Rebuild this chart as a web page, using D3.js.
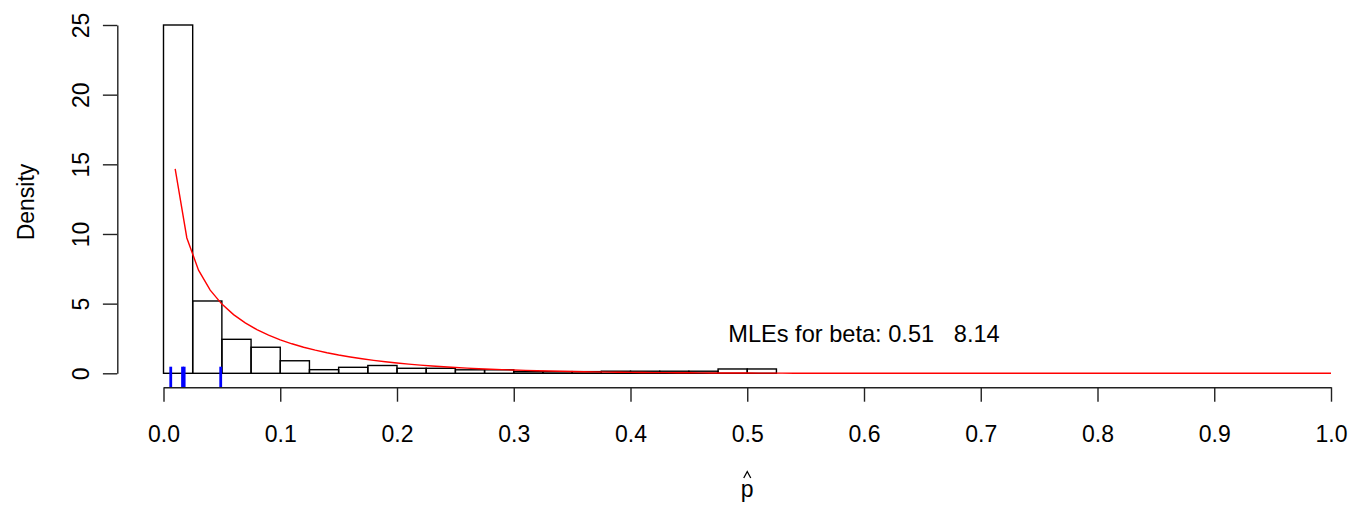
<!DOCTYPE html>
<html>
<head>
<meta charset="utf-8">
<script src="https://cdn.jsdelivr.net/npm/d3@7"></script>
<style>
  html, body { margin: 0; padding: 0; background: #fff; }
  svg { display: block; }
  text { font-family: "Liberation Sans", Arial, sans-serif; fill: #000; }
</style>
</head>
<body>
<svg id="chart" width="1359" height="506"></svg>
<script>
// Histogram of estimated proportions (density scale), bin width 0.025
const breaks = [0, 0.025, 0.05, 0.075, 0.1, 0.125, 0.15, 0.175, 0.2, 0.225, 0.25,
                0.275, 0.3, 0.325, 0.35, 0.375, 0.4, 0.425, 0.45, 0.475, 0.5, 0.525];
const densities = [25.0, 5.19, 2.44, 1.87, 0.90, 0.26, 0.43, 0.56, 0.36, 0.36, 0.25,
                   0.25, 0.12, 0.12, 0.12, 0.15, 0.15, 0.15, 0.15, 0.31, 0.31];

// Fitted beta parameters (maximum likelihood)
const betaShape = [0.51, 8.14];
// Grid on which the fitted density is evaluated
const curveFrom = [0.01];
const curveTo = [1.0];
const curveStep = [0.01];

// Rug of observed values
const rugValues = [0.0062, 0.0163, 0.0177, 0.049];

// Axis ticks
const xTicks = [0, 0.1, 0.2, 0.3, 0.4, 0.5, 0.6, 0.7, 0.8, 0.9, 1.0];
const xTickLabels = ["0.0", "0.1", "0.2", "0.3", "0.4", "0.5", "0.6", "0.7", "0.8", "0.9", "1.0"];
const yTicks = [0, 5, 10, 15, 20, 25];
const yTickLabels = ["0", "5", "10", "15", "20", "25"];

// Annotation
const noteText = ["MLEs for beta: 0.51\u00a0\u00a0\u00a08.14"];
const notePos = [0.6, 3];

const svg = d3.select("#chart");
const FONT = 23;

const x = d3.scaleLinear().domain([0, 1]).range([163.5, 1331]);
const y = d3.scaleLinear().domain([0, 25]).range([373.3, 25]);
const axisY = 387.3;   // x axis sits one density unit below zero
const axisX = 117.3;   // y axis sits 0.04 to the left of zero

// log-gamma (Lanczos) for the beta function
function lgamma(z) {
  const g = 7;
  const c = [0.99999999999980993, 676.5203681218851, -1259.1392167224028,
             771.32342877765313, -176.61502916214059, 12.507343278686905,
             -0.13857109526572012, 9.9843695780195716e-6, 1.5056327351493116e-7];
  if (z < 0.5) return Math.log(Math.PI / Math.sin(Math.PI * z)) - lgamma(1 - z);
  z -= 1;
  let s = c[0];
  for (let i = 1; i < g + 2; i++) s += c[i] / (z + i);
  const t = z + g + 0.5;
  return 0.5 * Math.log(2 * Math.PI) + (z + 0.5) * Math.log(t) - t + Math.log(s);
}
function dbeta(p, a, b) {
  if (p <= 0 || p >= 1) return (p >= 1 && b > 1) ? 0 : NaN;
  const lb = lgamma(a) + lgamma(b) - lgamma(a + b);
  return Math.exp((a - 1) * Math.log(p) + (b - 1) * Math.log(1 - p) - lb);
}

// Histogram bars
const bins = densities.map((d, i) => ({ x0: breaks[i], x1: breaks[i + 1], d }));
svg.append("g")
  .selectAll("rect")
  .data(bins)
  .join("rect")
  .attr("x", b => x(b.x0))
  .attr("y", b => y(b.d))
  .attr("width", b => x(b.x1) - x(b.x0))
  .attr("height", b => y(0) - y(b.d))
  .attr("fill", "none")
  .attr("stroke", "#000")
  .attr("stroke-width", 1.4);

// Fitted beta density
const nPts = Math.round((curveTo[0] - curveFrom[0]) / curveStep[0]);
const curvePts = d3.range(nPts + 1).map(i => {
  const p = +(curveFrom[0] + i * curveStep[0]).toFixed(4);
  return [p, dbeta(p, betaShape[0], betaShape[1])];
});
svg.append("path")
  .datum(curvePts)
  .attr("fill", "none")
  .attr("stroke", "#ff0000")
  .attr("stroke-width", 1.4)
  .attr("d", d3.line().x(d => x(d[0])).y(d => y(d[1])));

// Rug
svg.append("g")
  .selectAll("line")
  .data(rugValues)
  .join("line")
  .attr("x1", d => x(d)).attr("x2", d => x(d))
  .attr("y1", axisY).attr("y2", axisY - 20.6)
  .attr("stroke", "#0000ff")
  .attr("stroke-width", 2.8);

// X axis
const xAxis = d3.axisBottom(x)
  .tickValues(xTicks)
  .tickFormat((d, i) => xTickLabels[i])
  .tickSizeInner(14.4)
  .tickSizeOuter(0);
const gx = svg.append("g").attr("transform", `translate(0,${axisY})`).call(xAxis);
gx.select(".domain").attr("stroke", "#222").attr("stroke-width", 1.4);
gx.selectAll(".tick line").attr("stroke", "#222").attr("stroke-width", 1.4);
gx.selectAll(".tick text")
  .attr("font-size", FONT)
  .attr("font-family", null)
  .attr("dy", null)
  .attr("y", 55.2)
  .attr("fill", "#000");

// Y axis
const yAxis = d3.axisLeft(y)
  .tickValues(yTicks)
  .tickFormat((d, i) => yTickLabels[i])
  .tickSizeInner(14.4)
  .tickSizeOuter(0);
const gy = svg.append("g").attr("transform", `translate(${axisX},0)`).call(yAxis);
gy.select(".domain").attr("stroke", "#222").attr("stroke-width", 1.4);
gy.selectAll(".tick line").attr("stroke", "#222").attr("stroke-width", 1.4);
gy.selectAll(".tick text")
  .attr("font-size", FONT)
  .attr("font-family", null)
  .attr("x", null)
  .attr("dy", null)
  .attr("text-anchor", "middle")
  .attr("transform", "translate(-28.8,0) rotate(-90)")
  .attr("fill", "#000");
svg.selectAll(".tick text").style("font-family", "'Liberation Sans', Arial, sans-serif");

// Axis titles
svg.append("text")
  .attr("transform", "translate(34,202) rotate(-90)")
  .attr("text-anchor", "middle")
  .attr("font-size", FONT)
  .text("Density");

const xLabX = (x(-0.04) + x(1.04)) / 2;
svg.append("text")
  .attr("x", xLabX)
  .attr("y", 497)
  .attr("text-anchor", "middle")
  .attr("font-size", FONT)
  .text("p");
// circumflex accent over p
svg.append("path")
  .attr("d", `M${xLabX - 3.5},${478} L${xLabX},${471.5} L${xLabX + 3.5},${478}`)
  .attr("fill", "none")
  .attr("stroke", "#000")
  .attr("stroke-width", 1.3);

// Annotation with fitted parameters
svg.append("text")
  .attr("x", x(notePos[0]))
  .attr("y", y(notePos[1]) + 10)
  .attr("text-anchor", "middle")
  .attr("font-size", 23.6)
  .text(noteText[0]);
</script>
</body>
</html>
